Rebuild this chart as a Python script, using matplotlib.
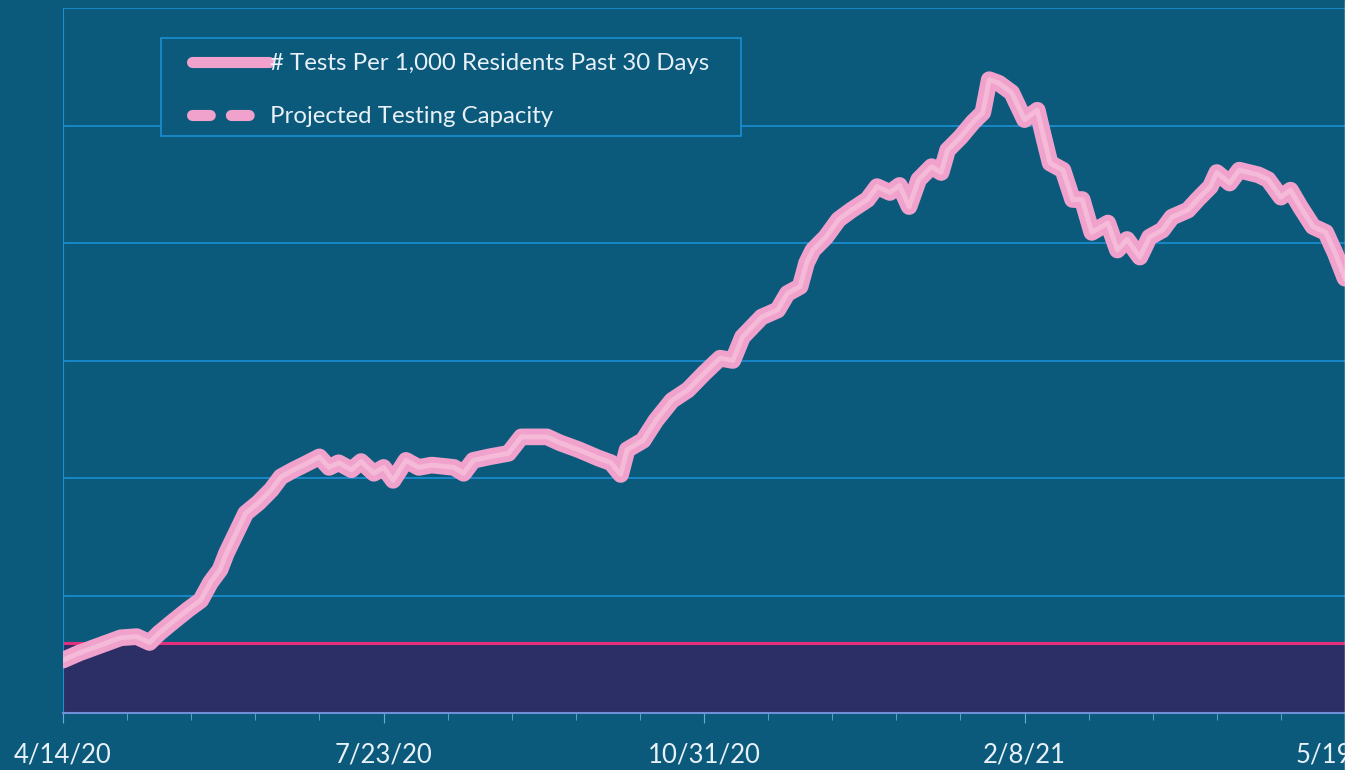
import numpy as np
import matplotlib.pyplot as plt
from matplotlib.patches import Rectangle
from matplotlib.lines import Line2D

# days since 4/14/20 and tests per 1,000 residents (past 30 days)
days = [0, 5, 12, 18, 23, 27, 30, 34, 39, 43, 46, 49, 51, 54, 57, 61, 65, 68,
        72, 75, 80, 83, 86, 90, 93, 97, 100, 103, 107, 111, 115, 122, 125, 128,
        133, 139, 143, 147, 151, 155, 161, 167, 171, 174, 176, 181, 185, 190,
        195, 200, 205, 209, 212, 218, 223, 226, 230, 232, 234, 238, 242, 246,
        251, 254, 258, 261, 264, 267, 271, 274, 276, 280, 284, 287, 289, 292,
        296, 300, 304, 306, 308, 312, 315, 318, 321, 326, 329, 332, 336, 339,
        343, 346, 351, 354, 358, 360, 364, 367, 373, 376, 380, 383, 386, 390,
        394, 397, 400]
tests = [4.5, 5.1, 5.8, 6.4, 6.5, 6.0, 6.8, 7.7, 8.8, 9.6, 11.1, 12.2, 13.6,
         15.3, 17.0, 17.9, 19.0, 20.1, 20.7, 21.1, 21.8, 20.9, 21.3, 20.7, 21.4,
         20.4, 20.9, 19.8, 21.5, 20.9, 21.1, 20.9, 20.4, 21.5, 21.8, 22.1, 23.5,
         23.5, 23.5, 23.0, 22.4, 21.7, 21.3, 20.3, 22.4, 23.2, 24.9, 26.6, 27.5,
         28.9, 30.2, 30.0, 32.0, 33.7, 34.3, 35.7, 36.3, 38.3, 39.4, 40.5, 42.0,
         42.8, 43.7, 44.8, 44.3, 44.9, 43.1, 45.4, 46.5, 46.0, 47.9, 49.0, 50.3,
         51.1, 53.9, 53.6, 52.8, 50.5, 51.3, 49.0, 46.8, 46.2, 43.7, 43.7, 40.9,
         41.7, 39.4, 40.3, 38.8, 40.5, 41.1, 42.2, 42.8, 43.7, 44.8, 46.0, 45.1,
         46.2, 45.8, 45.4, 43.9, 44.5, 43.1, 41.4, 40.9, 39.1, 37.0]
capacity = 6.0
tick_days = [0, 100, 200, 300, 400]
tick_labels = ['4/14/20', '7/23/20', '10/31/20', '2/8/21', '5/19/21']

bg = '#0b5a7b'
grid = '#1b8fd4'
pink = '#f0a2cc'
txt = '#e8f0f8'
W, H = 1363, 770

plt.rcParams['font.family'] = ['Lato', 'DejaVu Sans']
fig = plt.figure(figsize=(W/100, H/100), dpi=100, facecolor=bg)
ax = fig.add_axes([63/W, 57/H, 1282/W, 705/H])
ax.set_facecolor(bg)

ax.axhspan(0, capacity, color='#2b2f66', zorder=1)
ax.axhline(capacity, color='#e3307c', lw=2.2, zorder=2)
ax.plot(days, tests, color=pink, lw=12, solid_capstyle='round',
        solid_joinstyle='round', zorder=3)
ax.plot(days, tests, color='#f8cfe3', lw=3.5, alpha=0.55, zorder=4)

ax.set_xlim(0, 400)
ax.set_ylim(0, 60)
ax.set_yticks(np.arange(0, 61, 10))
ax.set_yticklabels([])
ax.tick_params(axis='y', length=0)
ax.grid(axis='y', color=grid, lw=1.2, zorder=0)
ax.set_xticks(tick_days)
ax.set_xticklabels(tick_labels, color=txt, fontsize=18.5)
ax.set_xticks(np.arange(0, 401, 20), minor=True)
ax.tick_params(axis='x', which='major', length=7, color='#6fa8dc', pad=14)
ax.tick_params(axis='x', which='minor', length=5, color='#6fa8dc')
for s in ['top', 'right']:
    ax.spines[s].set_visible(False)
ax.spines['left'].set_color(grid)
ax.spines['bottom'].set_color('#6f8fd8')
ax.spines['bottom'].set_linewidth(1.5)

# legend box drawn by hand, entries placed inside it
fig.patches.append(Rectangle((161/W, 1 - 136/H), 580/W, 98/H,
                             transform=fig.transFigure, facecolor=bg,
                             edgecolor=grid, lw=1.2, zorder=5))
handles = [Line2D([0], [0], color=pink, lw=8, solid_capstyle='round'),
           Line2D([0], [0], color=pink, lw=8, ls=(0, (1.6, 1.9)),
                  dash_capstyle='round')]
leg = fig.legend(handles, ['# Tests Per 1,000 Residents Past 30 Days',
                           'Projected Testing Capacity'],
                 loc='upper left', bbox_to_anchor=(192/W, 1 - 53/H),
                 frameon=False, fontsize=17.3, handlelength=3.2,
                 handletextpad=0.05, labelspacing=1.35, borderpad=0,
                 borderaxespad=0)
leg.set_zorder(6)
for t in leg.get_texts():
    t.set_color(txt)

# white strip on the right (cropped scan)
fig.patches.append(Rectangle((1345/W, 0), 18/W, 1, transform=fig.transFigure,
                             color='white', zorder=10))

fig.savefig('out.png', dpi=100, facecolor=bg)
